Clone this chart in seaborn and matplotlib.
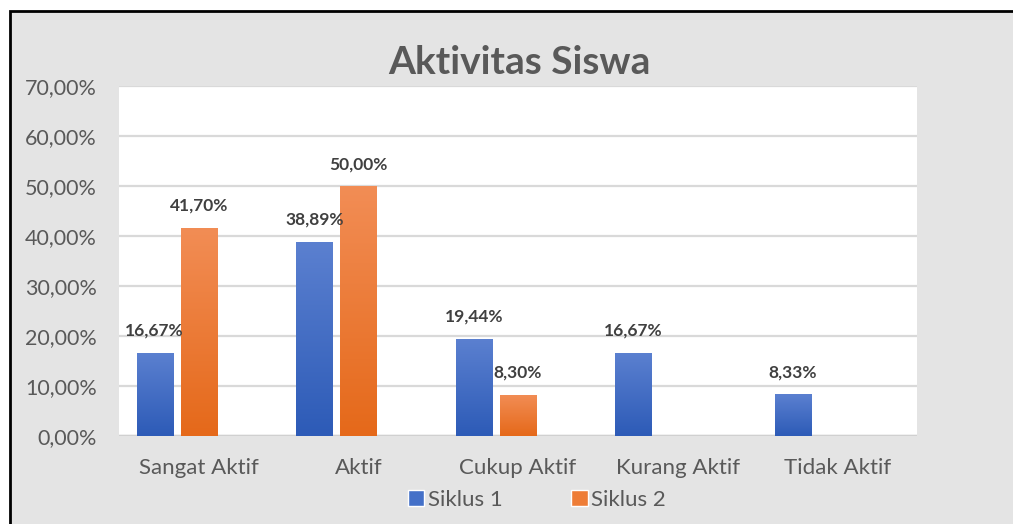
import numpy as np
import pandas as pd
import matplotlib
matplotlib.use("Agg")
import matplotlib.pyplot as plt
import seaborn as sns
from matplotlib.patches import Rectangle
from matplotlib.colors import LinearSegmentedColormap

# data
categories = ["Sangat Aktif", "Aktif", "Cukup Aktif", "Kurang Aktif", "Tidak Aktif"]
siklus1 = [16.67, 38.89, 19.44, 16.67, 8.33]
siklus2 = [41.70, 50.00, 8.30, np.nan, np.nan]
series = ["Siklus 1", "Siklus 2"]
yticks = [0, 10, 20, 30, 40, 50, 60, 70]

df = pd.DataFrame({
    "Kategori": categories * 3,
    "Nilai": siklus1 + siklus2 + [np.nan] * len(categories),
    "Seri": ["Siklus 1"] * 5 + ["Siklus 2"] * 5 + ["_kosong"] * 5,
})

sns.set_theme(style="white")
plt.rcParams["font.family"] = ["Lato", "DejaVu Sans"]

txt = "#595959"
grad = {
    "Siklus 1": ("#2d5bb7", "#5b80d0"),
    "Siklus 2": ("#e5691a", "#f28d55"),
}

fig = plt.figure(figsize=(10.13, 5.24), dpi=100, facecolor="white")
# chart frame
fig.patches.append(Rectangle((10 / 1013, -0.1), 1.2, 1 - 11 / 524 + 0.1,
                             transform=fig.transFigure, facecolor="#e4e4e4",
                             edgecolor="black", lw=2, zorder=-5))

ax = fig.add_axes([119 / 1013, 88 / 524, 798 / 1013, 350 / 524])
ax.set_zorder(2)
ax.set_facecolor("white")

sns.barplot(data=df, x="Kategori", y="Nilai", hue="Seri",
            hue_order=["Siklus 1", "Siklus 2", "_kosong"],
            width=0.83, gap=0.18, ax=ax, legend=False,
            palette=["#3a67c2", "#ec7a2e", "#ffffff"], errorbar=None, zorder=3)

ax.set_xlim(-0.5, 4.5)
ax.set_ylim(0, 70)
ax.set_yticks(yticks)
ax.set_yticklabels([f"{v},00%" for v in yticks], color=txt, fontsize=15.5)
ax.tick_params(axis="x", colors=txt, labelsize=16, pad=16, length=0)
ax.tick_params(axis="y", length=0, pad=16)
ax.set_xlabel("")
ax.set_ylabel("")
for s in ax.spines.values():
    s.set_visible(False)
ax.yaxis.grid(True, color="#d9d9d9", lw=1.6, zorder=0)
ax.set_axisbelow(True)
ax.axhline(0, color="#d0d0d0", lw=2.5, zorder=2)

# gradient fills + labels
vals = {"Siklus 1": siklus1, "Siklus 2": siklus2}
for name, container in zip(series, ax.containers):
    cmap = LinearSegmentedColormap.from_list(name, list(grad[name]))
    for p, v in zip(container.patches, vals[name]):
        if np.isnan(v):
            continue
        x0, w, h = p.get_x(), p.get_width(), p.get_height()
        p.set_facecolor("none")
        p.set_edgecolor("none")
        g = np.linspace(0, 1, 100).reshape(-1, 1)
        im = ax.imshow(g, cmap=cmap, aspect="auto", origin="lower",
                       extent=[x0, x0 + w, 0, h], zorder=3)
        im.set_clip_path(p)
        lbl = f"{v:.2f}".replace(".", ",") + "%"
        ax.annotate(lbl, (x0 + w / 2, h), xytext=(0, 10), textcoords="offset points",
                    ha="center", va="bottom", fontsize=12.5, fontweight="bold",
                    color="#404040", zorder=5)

ax.set_xlim(-0.5, 4.5)
ax.set_ylim(0, 70)
ax.set_aspect("auto")

fig.text(519 / 1013, 1 - 62 / 524, "Aktivitas Siswa", ha="center", va="center",
         fontsize=28, fontweight="bold", color=txt)

handles = [Rectangle((0, 0), 1, 1, facecolor="#4470c8"),
           Rectangle((0, 0), 1, 1, facecolor="#ee7d37")]
fig.legend(handles, series, loc="center", bbox_to_anchor=(537 / 1013, 1 - 500 / 524),
           ncol=2, frameon=False, fontsize=16, labelcolor=txt,
           handlelength=0.75, handleheight=0.75, handletextpad=0.15, columnspacing=3.1)

fig.savefig("out.png", dpi=100, facecolor="white")
